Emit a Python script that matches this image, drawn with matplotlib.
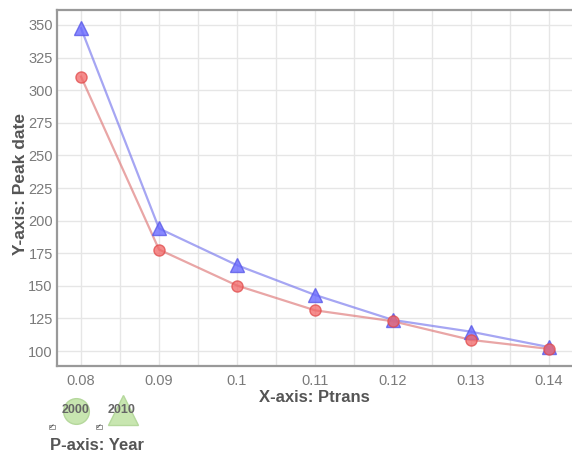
import matplotlib.pyplot as plt
import matplotlib.ticker as ticker
from matplotlib.lines import Line2D
from matplotlib.patches import Rectangle

plt.rcParams['font.family'] = ['Liberation Sans', 'DejaVu Sans']

# Data
ptrans = [0.08, 0.09, 0.10, 0.11, 0.12, 0.13, 0.14]
peak_2000 = [310.4, 177.8, 150.2, 131.2, 122.8, 108.5, 101.6]
peak_2010 = [347.5, 194.0, 165.8, 143.0, 123.8, 114.8, 103.0]
years = ['2000', '2010']
x_ticks = [0.08, 0.09, 0.10, 0.11, 0.12, 0.13, 0.14]
x_tick_labels = ['0.08', '0.09', '0.1', '0.11', '0.12', '0.13', '0.14']
y_ticks = [100, 125, 150, 175, 200, 225, 250, 275, 300, 325, 350]

fig = plt.figure(figsize=(5.72, 4.54), dpi=100)
ax = fig.add_axes([57 / 572, 1 - 366 / 454, 1 - 57 / 572, 356 / 454])

# Lines + markers
ax.plot(ptrans, peak_2000, color='#e08080', linewidth=1.6, alpha=0.7, zorder=2)
ax.plot(ptrans, peak_2010, color='#8080ee', linewidth=1.6, alpha=0.7, zorder=2)
ax.plot(ptrans, peak_2010, linestyle='none', marker='^', markersize=10,
        markerfacecolor='#6b6bff', markeredgecolor='#5a5ae8', alpha=0.8, zorder=3)
ax.plot(ptrans, peak_2000, linestyle='none', marker='o', markersize=8,
        markerfacecolor='#f26666', markeredgecolor='#e04a4a', alpha=0.75, zorder=4)

ax.set_xlim(0.07692, 0.14295)
ax.set_ylim(88.5, 361.5)

ax.set_xticks(x_ticks)
ax.set_xticklabels(x_tick_labels)
ax.xaxis.set_minor_locator(ticker.MultipleLocator(0.005))
ax.set_yticks(y_ticks)

ax.grid(True, which='major', axis='both', color='#e6e6e6', linewidth=1.0, zorder=0)
ax.grid(True, which='minor', axis='x', color='#e6e6e6', linewidth=1.0, zorder=0)
ax.set_axisbelow(True)

ax.tick_params(axis='both', which='both', length=0, labelsize=10.5, labelcolor='#7a7a7a')
ax.tick_params(axis='y', pad=3)
ax.tick_params(axis='x', pad=6)

for side in ['left', 'bottom', 'top']:
    ax.spines[side].set_color('#999999')
    ax.spines[side].set_linewidth(1.6)
ax.spines['right'].set_visible(False)

ax.set_xlabel('X-axis: Ptrans', fontsize=12, fontweight='bold', color='#555555', labelpad=1)
ax.set_ylabel('Y-axis: Peak date', fontsize=12.5, fontweight='bold', color='#555555')
ax.yaxis.set_label_coords(-29 / 515, 0.51)

# P-axis legend at the bottom
def fx(px):
    return px / 572

def fy(py):
    return 1 - py / 454

fig.add_artist(Line2D([fx(76)], [fy(411)], marker='o', markersize=18.5, linestyle='none',
                      markerfacecolor='#c8e6b0', markeredgecolor='#b5d89c',
                      transform=fig.transFigure))
fig.add_artist(Line2D([fx(123)], [fy(410)], marker='^', markersize=22, linestyle='none',
                      markerfacecolor='#c8e6b0', markeredgecolor='#b5d89c',
                      transform=fig.transFigure))
for label, px in zip(years, [76, 122]):
    fig.text(fx(px), fy(410), label, fontsize=9, fontweight='bold', color='#666666',
             ha='center', va='center')
for px in [52, 99]:
    fig.add_artist(Rectangle((fx(px) - 0.0045, fy(427) - 0.0055), 0.009, 0.011,
                             facecolor='white', edgecolor='#888888', linewidth=0.6,
                             transform=fig.transFigure))
    fig.text(fx(px), fy(427), '✓', fontsize=5, color='#333333', ha='center', va='center',
             family='DejaVu Sans')
fig.text(fx(50), fy(445), 'P-axis: Year', fontsize=12, fontweight='bold', color='#555555',
         ha='left', va='center')

fig.savefig('out.png', dpi=100)
